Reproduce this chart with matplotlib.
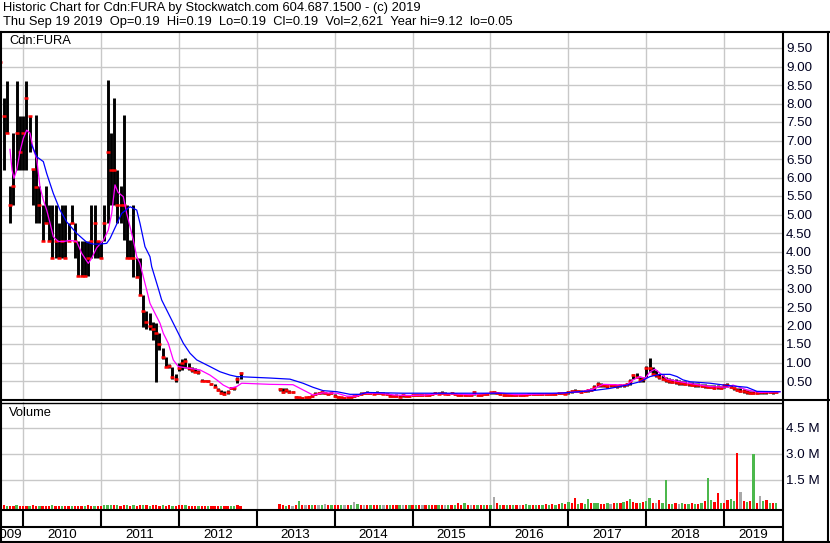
import numpy as np
import matplotlib
matplotlib.use("Agg")
import matplotlib.pyplot as plt
from matplotlib.lines import Line2D

plt.rcParams['font.family'] = ['Liberation Sans', 'DejaVu Sans']

# ---------------- data (half-month periods from mid Sep 2009) ----------------
highs_2009_12 = [9.12, 8.15, 8.62, 5.77, 7.20, 8.62, 7.66, 7.66, 8.62, 7.66,
                 6.22, 7.70, 5.77, 5.26, 5.77, 5.26, 5.26, 5.26, 4.77, 5.26,
                 5.26, 4.77, 5.26, 4.77, 4.28, 4.28, 4.28, 4.28, 5.26, 5.26,
                 4.28, 4.28, 5.26, 8.63, 7.20, 8.15, 6.20, 5.77, 7.69, 5.26,
                 4.30, 5.26, 3.82, 3.82, 2.83, 2.40, 2.33, 2.10, 2.07, 1.80,
                 1.40, 1.15, 0.95, 0.88, 0.70, 1.00, 1.10, 1.12, 1.00, 0.88,
                 0.85, 0.80, 0.55, 0.52, 0.52, 0.45, 0.42, 0.30, 0.25, 0.22,
                 0.25, 0.35, 0.35, 0.60, 0.75]
lows_2009_12 = [9.12, 6.20, 7.20, 4.77, 5.26, 6.20, 6.20, 6.20, 6.20, 6.70,
                5.26, 4.77, 4.77, 4.28, 4.77, 4.28, 3.82, 3.82, 3.82, 3.82,
                3.82, 4.28, 4.77, 3.82, 3.34, 3.34, 3.34, 3.34, 3.82, 3.82,
                3.82, 3.82, 4.28, 4.77, 5.26, 5.26, 4.77, 4.77, 4.30, 3.82,
                3.82, 3.30, 3.30, 2.83, 1.96, 1.90, 1.88, 1.60, 0.47, 1.34,
                1.10, 0.88, 0.85, 0.55, 0.47, 0.78, 0.80, 0.85, 0.80, 0.75,
                0.75, 0.70, 0.50, 0.50, 0.48, 0.40, 0.35, 0.22, 0.15, 0.13,
                0.15, 0.28, 0.26, 0.45, 0.55]
closes_2009_12 = [9.12, 7.66, 7.20, 5.26, 5.77, 7.20, 6.70, 7.20, 8.15, 7.66,
                  6.22, 5.75, 5.26, 4.28, 4.77, 4.28, 3.82, 4.28, 3.82, 4.28,
                  3.82, 4.28, 4.77, 4.28, 3.34, 3.34, 3.34, 3.82, 4.28, 4.77,
                  4.28, 3.82, 4.77, 6.70, 6.20, 6.20, 5.26, 5.26, 5.26, 3.82,
                  3.82, 3.82, 3.30, 2.83, 2.40, 2.10, 2.00, 1.90, 1.80, 1.50,
                  1.15, 0.88, 0.90, 0.60, 0.55, 0.85, 1.00, 1.05, 0.85, 0.80,
                  0.75, 0.75, 0.50, 0.50, 0.50, 0.42, 0.35, 0.26, 0.18, 0.16,
                  0.20, 0.30, 0.30, 0.55, 0.72]
no_trade_gap = [None] * 11

highs_2013_19 = [.31, .30, .31, .25, .22, .10, .08, .08, .08, .10,
                 .12, .20, .20, .22, .20, .18, .20, .15, .10, .08,
                 .08, .08, .09, .12, .15, .20, .20, .22, .20, .20,
                 .22, .20, .19, .18, .14, .12, .14, .12, .14, .13,
                 .12, .14, .15, .14, .15, .14, .15, .18, .19, .20,
                 .22, .19, .18, .19, .18, .15, .14, .15, .16, .14,
                 .24, .16, .15, .17, .18, .21, .22, .21, .17, .15,
                 .14, .15, .14, .15, .14, .15, .16, .16, .17, .16,
                 .17, .16, .17, .18, .17, .18, .19, .20, .19, .22,
                 .26, .28, .26, .25, .26, .28, .30, .40, .47, .45,
                 .42, .40, .41, .42, .40, .42, .43, .45, .55, .70,
                 .72, .62, .60, .90, 1.12, .88, .80, .70, .65, .62,
                 .58, .56, .55, .52, .50, .50, .48, .47, .45, .44,
                 .43, .42, .40, .40, .38, .38, .37, .42, .45, .40,
                 .35, .32, .30, .28, .25, .22, .22, .22, .23, .22,
                 .22, .23, .22, .21]
lows_2013_19 = [.22, .18, .20, .18, .18, .05, .04, .04, .04, .05,
                .07, .12, .14, .15, .15, .12, .14, .08, .05, .04,
                .04, .04, .05, .08, .10, .12, .14, .15, .15, .14,
                .15, .14, .14, .12, .08, .07, .08, .07, .08, .08,
                .07, .09, .10, .10, .10, .09, .10, .12, .14, .14,
                .15, .14, .13, .14, .12, .10, .09, .10, .10, .09,
                .12, .10, .10, .12, .13, .15, .16, .15, .12, .10,
                .09, .10, .09, .10, .10, .10, .11, .12, .12, .12,
                .12, .12, .13, .13, .12, .13, .14, .15, .14, .15,
                .18, .20, .19, .18, .19, .20, .22, .25, .35, .35,
                .33, .32, .33, .34, .32, .34, .35, .36, .40, .55,
                .58, .48, .48, .60, .75, .65, .60, .55, .52, .48,
                .45, .44, .42, .40, .38, .38, .36, .36, .35, .34,
                .33, .32, .30, .30, .28, .28, .28, .30, .35, .30,
                .26, .22, .20, .18, .16, .15, .14, .15, .16, .16,
                .16, .17, .16, .17]
closes_2013_19 = [.28, .20, .25, .20, .20, .07, .06, .05, .06, .08,
                  .10, .15, .18, .19, .18, .15, .17, .10, .07, .06,
                  .05, .06, .06, .10, .12, .15, .17, .18, .17, .16,
                  .18, .17, .16, .14, .10, .09, .10, .08, .11, .10,
                  .09, .12, .12, .12, .13, .11, .12, .15, .17, .16,
                  .18, .16, .15, .17, .15, .12, .11, .12, .13, .12,
                  .20, .12, .13, .15, .16, .19, .20, .17, .15, .12,
                  .11, .12, .11, .13, .12, .12, .13, .14, .15, .14,
                  .15, .14, .15, .16, .15, .16, .17, .17, .16, .19,
                  .23, .24, .22, .21, .23, .25, .27, .35, .42, .40,
                  .38, .36, .38, .38, .36, .38, .40, .42, .50, .65,
                  .62, .52, .55, .85, .85, .70, .65, .60, .56, .52,
                  .50, .48, .47, .45, .44, .42, .42, .40, .40, .38,
                  .37, .36, .35, .34, .32, .33, .32, .38, .40, .33,
                  .30, .26, .24, .22, .20, .17, .18, .18, .20, .19,
                  .19, .20, .19, .19]

# volume in millions, with bar colour codes (g=up, r=down, k=unchanged)
volume_m = ([0.02, 0.03, 0.02, 0.01, 0.02, 0.03, 0.02, 0.02, 0.01, 0.02, 0.03, 0.02,
             0.02, 0.01, 0.02, 0.02, 0.03, 0.01, 0.02, 0.02, 0.01, 0.02, 0.02, 0.01]
            + [0.02, 0.01, 0.02, 0.03, 0.02, 0.02, 0.01, 0.02, 0.03, 0.05, 0.03, 0.04,
               0.03, 0.02, 0.04, 0.03, 0.02, 0.03, 0.02, 0.03, 0.04, 0.03, 0.02, 0.03]
            + [0.04, 0.02, 0.03, 0.02, 0.03, 0.02, 0.02, 0.03, 0.04, 0.03, 0.02, 0.02, 0.01, 0.02,
               0.02, 0.01, 0.02, 0.01, 0.02, 0.02, 0.01, 0.02, 0.02, 0.01, 0.02, 0.03, 0.02]
            + [0.0] * 11
            + [0.10, 0.03, 0.02, 0.04, 0.02, 0.06, 0.29, 0.04, 0.03, 0.05, 0.08, 0.04,
               0.03, 0.06, 0.12, 0.04, 0.05, 0.03, 0.06, 0.08, 0.04, 0.05, 0.07, 0.25]
            + [0.10, 0.08, 0.06, 0.07, 0.05, 0.04, 0.06, 0.05, 0.04, 0.03, 0.05, 0.04,
               0.06, 0.03, 0.04, 0.05, 0.03, 0.04, 0.05, 0.06, 0.04, 0.05, 0.03, 0.06]
            + [0.05, 0.08, 0.06, 0.05, 0.07, 0.06, 0.08, 0.20, 0.06, 0.15, 0.05, 0.06,
               0.07, 0.05, 0.06, 0.05, 0.07, 0.08, 0.54, 0.20, 0.08, 0.06, 0.05, 0.07]
            + [0.06, 0.05, 0.06, 0.05, 0.12, 0.06, 0.05, 0.07, 0.06, 0.08, 0.10, 0.07,
               0.12, 0.08, 0.10, 0.15, 0.12, 0.25, 0.18, 0.48, 0.12, 0.15, 0.10, 0.40]
            + [0.18, 0.15, 0.20, 0.12, 0.10, 0.15, 0.12, 0.18, 0.15, 0.20, 0.25, 0.30,
               0.40, 0.22, 0.15, 0.20, 0.25, 0.30, 0.45, 0.20, 0.15, 0.35, 0.20, 1.50]
            + [0.12, 0.10, 0.15, 0.12, 0.18, 0.10, 0.12, 0.15, 0.10, 0.12, 0.20, 0.30,
               1.63, 0.35, 0.25, 0.77, 0.20, 0.15, 0.35, 0.40, 0.30, 3.08, 0.83, 0.30]
            + [0.25, 0.30, 3.00, 0.20, 0.55, 0.30, 0.35, 0.20, 0.18, 0.15])
volume_dir = ("rrgrrgrrrgrrgrrrgrrgrrgr" + "rrgrrgrrgggrgrrgrgrrgrgr"
              + "rrgrrgrrrgrrrgrrgrrrgrrggrr" + "kkkkkkkkkkk"
              + "rrgrkrgrkrgrkgkrgrrgkrgk" + "grkrgrrgkrgrrgkrgrgrkrgr"
              + "rgrkgrgrrgrkrgrgrgkrgrgr" + "grkrggrgrgrgrgrgrgrrgrgg"
              + "rggrrgkrgrgrgrrgrggrkrgg" + "rgrkgrgrgrgrggrrgrrggrkr"
              + "grgrkgrgrg")

# moving averages (decimal year, price)
fast_ma_year = [2009.833, 2009.859, 2009.884, 2009.919, 2009.961, 2010.004, 2010.047, 2010.090,
                2010.132, 2010.176, 2010.218, 2010.261, 2010.304, 2010.347, 2010.389, 2010.453,
                2010.517, 2010.603, 2010.689, 2010.754, 2010.838, 2010.882, 2010.946, 2011.031,
                2011.095, 2011.139, 2011.181, 2011.220, 2011.288, 2011.331, 2011.374, 2011.416,
                2011.460, 2011.502, 2011.544, 2011.588, 2011.630, 2011.694, 2011.759, 2011.801,
                2011.865, 2011.929, 2011.994, 2012.144, 2012.272, 2012.400, 2012.487, 2012.571,
                2012.657, 2012.743, 2012.807, 2013.171, 2013.466, 2013.594, 2013.723, 2013.851,
                2014.031, 2014.159, 2014.288, 2014.365, 2014.583, 2014.775, 2014.968, 2015.161,
                2015.353, 2015.546, 2015.738, 2015.931, 2016.123, 2016.316, 2016.508, 2016.701,
                2016.893, 2017.150, 2017.317, 2017.445, 2017.753, 2017.830, 2017.920, 2017.985,
                2018.049, 2018.113, 2018.177, 2018.267, 2018.434, 2018.601, 2018.819, 2019.037,
                2019.114, 2019.294, 2019.461, 2019.718]
fast_ma = [6.76, 6.2, 5.98, 6.2, 6.7, 7.06, 7.28, 7.2, 6.77, 6.5, 5.75, 5.39, 5.12, 4.77, 4.4,
           4.27, 4.27, 4.3, 4.27, 3.95, 3.68, 3.82, 4.1, 4.3, 4.58, 5.03, 5.8, 5.6, 5.48, 5.03,
           4.67, 4.31, 3.86, 3.68, 3.32, 2.96, 2.6, 2.33, 2.06, 1.79, 1.52, 1.07, 0.89, 0.84,
           0.80, 0.66, 0.53, 0.39, 0.30, 0.35, 0.44, 0.41, 0.40, 0.26, 0.12, 0.18, 0.17, 0.09,
           0.09, 0.17, 0.17, 0.12, 0.11, 0.12, 0.16, 0.15, 0.13, 0.16, 0.18, 0.13, 0.14, 0.15,
           0.17, 0.21, 0.28, 0.41, 0.39, 0.53, 0.62, 0.57, 0.75, 0.82, 0.71, 0.55, 0.48, 0.42,
           0.35, 0.33, 0.39, 0.26, 0.19, 0.21]
slow_ma_year = [2010.112, 2010.176, 2010.261, 2010.304, 2010.389, 2010.475, 2010.561, 2010.689,
                2010.818, 2010.902, 2010.988, 2011.074, 2011.117, 2011.267, 2011.374, 2011.460,
                2011.502, 2011.566, 2011.630, 2011.652, 2011.737, 2011.780, 2011.887, 2011.994,
                2012.058, 2012.144, 2012.230, 2012.400, 2012.529, 2012.657, 2012.743, 2013.171,
                2013.427, 2013.594, 2013.723, 2013.851, 2014.031, 2014.198, 2014.326, 2014.416,
                2014.878, 2016.162, 2016.893, 2017.317, 2017.535, 2017.753, 2017.920, 2018.049,
                2018.177, 2018.305, 2018.395, 2018.472, 2018.562, 2018.819, 2019.037, 2019.294,
                2019.422, 2019.717]
slow_ma = [6.88, 6.56, 6.43, 6.11, 5.57, 5.12, 4.80, 4.49, 4.25, 4.2, 4.2, 4.22, 4.35, 5.03,
           5.21, 5.12, 4.76, 4.13, 3.86, 3.59, 3.00, 2.69, 2.24, 1.79, 1.52, 1.25, 1.07, 0.89,
           0.75, 0.66, 0.62, 0.58, 0.55, 0.44, 0.33, 0.24, 0.21, 0.14, 0.14, 0.19, 0.17, 0.17,
           0.17, 0.24, 0.30, 0.39, 0.48, 0.62, 0.68, 0.68, 0.62, 0.53, 0.48, 0.44, 0.38, 0.33,
           0.22, 0.21]

price_ticks = [0.5, 1.0, 1.5, 2.0, 2.5, 3.0, 3.5, 4.0, 4.5, 5.0, 5.5, 6.0, 6.5, 7.0, 7.5,
               8.0, 8.5, 9.0, 9.5]
volume_ticks = [1.5, 3.0, 4.5]
volume_tick_labels = ["1.5 M", "3.0 M", "4.5 M"]
years = list(range(2009, 2020))

title_line1 = "Historic Chart for Cdn:FURA by Stockwatch.com 604.687.1500 - (c) 2019"
title_line2 = ("Thu Sep 19 2019  Op=0.19  Hi=0.19  Lo=0.19  Cl=0.19  Vol=2,621  "
               "Year hi=9.12  lo=0.05")

# ---------------- assemble ----------------
hi = np.array(highs_2009_12 + no_trade_gap + highs_2013_19, dtype=float)
lo = np.array(lows_2009_12 + no_trade_gap + lows_2013_19, dtype=float)
cl = np.array(closes_2009_12 + no_trade_gap + closes_2013_19, dtype=float)
vol = np.array(volume_m, dtype=float)
n = len(cl)
t = 2009.71 + np.arange(n) / 24.0

W, H = 830, 543
PX_PER_YEAR = 77.9
X_LEFT = 2010 - 23 / PX_PER_YEAR
X_RIGHT = 2010 + (782 - 23) / PX_PER_YEAR

fig = plt.figure(figsize=(W / 100, H / 100), dpi=100)
fig.patch.set_facecolor("white")


def fx(px):
    return px / W


def fy(py):
    return 1 - py / H


GRID = "#c8c8c8"
LABEL_COLOR = "#000020"

# price panel
ax_p = fig.add_axes([0, fy(399.5), fx(782), (399.5 - 33) / H])
ax_p.set_xlim(X_LEFT, X_RIGHT)
ax_p.set_ylim(0, (399.5 - 33) / 37.0)
ax_p.set_yticks(price_ticks)
ax_p.set_yticklabels(["%.2f" % v for v in price_ticks])
ax_p.yaxis.tick_right()
ax_p.tick_params(axis="y", length=0, pad=3.0, labelsize=9.6, labelcolor=LABEL_COLOR)
ax_p.set_xticks(years[1:])
ax_p.tick_params(axis="x", length=0, labelbottom=False)
ax_p.grid(True, color=GRID, lw=1.0)
ax_p.set_axisbelow(True)
for s in ax_p.spines.values():
    s.set_visible(False)

m = ~np.isnan(hi)
ax_p.vlines(t[m], lo[m], hi[m], colors="black", lw=2.1, zorder=3)
ax_p.plot(t[m], cl[m], ls="none", marker="_", ms=3.4, mew=1.8, color="#ff0000", zorder=4)
ax_p.plot(fast_ma_year, fast_ma, color="#ff00ff", lw=0.9, zorder=5)
ax_p.plot(slow_ma_year, slow_ma, color="#0000ff", lw=0.9, zorder=6)
ax_p.text(9 / 782, 1 - (41 - 33) / (399.5 - 33), "Cdn:FURA",
          transform=ax_p.transAxes, fontsize=9.3, va="center", ha="left")

# volume panel
VOL_BOTTOM = -(509 - 506) / 26.0 * 1.5
ax_v = fig.add_axes([0, fy(509), fx(782), (509 - 402) / H])
ax_v.set_xlim(X_LEFT, X_RIGHT)
ax_v.set_ylim(VOL_BOTTOM, (506 - 402) / 26.0 * 1.5)
ax_v.set_yticks(volume_ticks)
ax_v.set_yticklabels(volume_tick_labels)
ax_v.yaxis.tick_right()
ax_v.tick_params(axis="y", length=0, pad=3.0, labelsize=9.6, labelcolor=LABEL_COLOR)
ax_v.set_xticks(years[1:])
ax_v.tick_params(axis="x", length=0, labelbottom=False)
ax_v.grid(True, color=GRID, lw=1.0)
ax_v.set_axisbelow(True)
for s in ax_v.spines.values():
    s.set_visible(False)
cmap = {"g": "#4cb84c", "r": "#ff0000", "k": "#a8a8a8"}
vm = vol > 0
ax_v.bar(t[vm], vol[vm] - VOL_BOTTOM, bottom=VOL_BOTTOM, width=2.3 / PX_PER_YEAR,
         color=[cmap[c] for c, keep in zip(volume_dir, vm) if keep], lw=0, zorder=3)
ax_v.text(9 / 782, 1 - (413 - 402) / (509 - 402), "Volume", transform=ax_v.transAxes,
          fontsize=9.3, va="center", ha="left")

# date strip
ax_x = fig.add_axes([0, fy(542), fx(782), (542 - 509) / H])
ax_x.set_xlim(X_LEFT, X_RIGHT)
ax_x.set_ylim(0, 33)
ax_x.axis("off")
ax_x.vlines(years[1:], 15, 33, colors="black", lw=1.5)
for y in years:
    a, b = max(y, X_LEFT), min(y + 1, X_RIGHT)
    if y == years[0]:
        ax_x.text(b - 1.0 / PX_PER_YEAR, 7.5, str(y), ha="right", va="center", fontsize=9.6,
                  clip_on=True)
    else:
        ax_x.text((a + b) / 2, 7.5, str(y), ha="center", va="center", fontsize=9.6,
                  clip_on=True)

# header
fig.text(fx(3), fy(8.5), title_line1, fontsize=9.3, va="center", ha="left")
fig.text(fx(3), fy(21.5), title_line2, fontsize=9.3, va="center", ha="left")


# frame lines
def hline(y, x0, x1, lw=1.5):
    fig.add_artist(Line2D([fx(x0), fx(x1)], [fy(y), fy(y)], color="black", lw=lw))


def vline(x, y0, y1, lw=1.5):
    fig.add_artist(Line2D([fx(x), fx(x)], [fy(y0), fy(y1)], color="black", lw=lw))


hline(32, 0, 830)
hline(399.5, 0, 830)
hline(402.5, 0, 782, lw=1.0)
hline(509.5, 0, 782)
hline(527, 0, 782)
hline(542, 0, 830)
vline(0.8, 32, 543)
vline(828, 32, 543)
vline(782.5, 32, 543)

fig.savefig("out.png", dpi=100, facecolor="white")
